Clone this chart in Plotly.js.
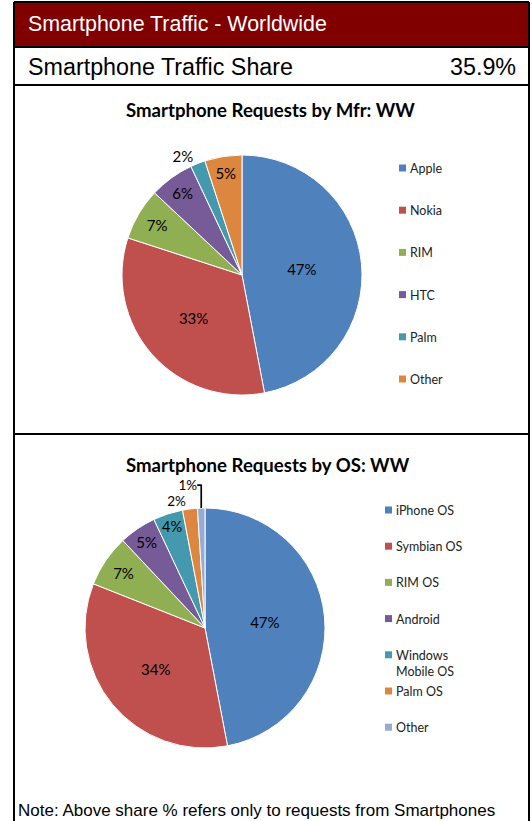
<!DOCTYPE html>
<html>
<head>
<meta charset="utf-8">
<script src="https://cdn.plot.ly/plotly-3.0.1.min.js"></script>
<style>html,body{margin:0;padding:0;background:#fff}</style>
</head>
<body>
<div id="chart" style="width:532px;height:821px"></div>
<script>
const mfrLabels = ['Apple', 'Nokia', 'RIM', 'HTC', 'Palm', 'Other'];
const mfrValues = [47, 33, 7, 6, 2, 5];
const osLabels = ['iPhone OS', 'Symbian OS', 'RIM OS', 'Android', 'Windows Mobile OS', 'Palm OS', 'Other'];
const osValues = [47, 34, 7, 5, 4, 2, 1];
const trafficShare = '35.9%';

const mfrColors = ['#4F81BD', '#C0504D', '#8FAF52', '#775B98', '#4599AE', '#DD8640'];
const osColors = ['#4F81BD', '#C0504D', '#8FAF52', '#775B98', '#4599AE', '#DD8640', '#95ACD5'];

const W = 532, H = 821;
const px = x => x / W;
const py = y => 1 - y / H;
const calibri = 'Lato, "Open Sans", sans-serif';
const arial = '"Liberation Sans", Arial, sans-serif';

function pieTrace(labels, values, colors, box, outside, outSize) {
  return {
    type: 'pie',
    labels: labels,
    values: values,
    sort: false,
    direction: 'clockwise',
    rotation: 0,
    marker: { colors: colors, line: { color: '#ffffff', width: 1 } },
    texttemplate: '%{value}%',
    textposition: labels.map((l, i) => outside.includes(i) ? 'outside' : 'inside'),
    insidetextorientation: 'horizontal',
    textfont: { family: calibri, size: 15, color: '#000000' },
    outsidetextfont: { family: calibri, size: outSize, color: '#000000' },
    hoverinfo: 'label+percent',
    domain: { x: [px(box[0]), px(box[2])], y: [py(box[3]), py(box[1])] },
    showlegend: false
  };
}

// legend built from the category arrays
function legendItems(labels, colors, x0, y0, step) {
  const shapes = [], annos = [];
  labels.forEach((l, i) => {
    const y = y0 + i * step;
    shapes.push({ type: 'rect', xref: 'paper', yref: 'paper', x0: px(x0), x1: px(x0 + 7), y0: py(y - 3.5), y1: py(y + 3.5), fillcolor: colors[i], line: { width: 0 } });
    annos.push({ xref: 'paper', yref: 'paper', x: px(x0 + 9), y: py(y - 9), xanchor: 'left', yanchor: 'top', align: 'left',
      text: l.replace('Windows ', 'Windows<br>'), showarrow: false, font: { family: calibri, size: 12.5, color: '#222' } });
  });
  return { shapes, annos };
}

const leg1 = legendItems(mfrLabels, mfrColors, 399, 168, 42.2);
const leg2 = legendItems(osLabels, osColors, 385, 510, 36.2);

function hline(y) {
  return { type: 'line', xref: 'paper', yref: 'paper', x0: px(14), x1: px(529), y0: py(y), y1: py(y), line: { color: '#000', width: 2 } };
}
function vline(x) {
  return { type: 'line', xref: 'paper', yref: 'paper', x0: px(x), x1: px(x), y0: py(2), y1: py(821), line: { color: '#000', width: 2 } };
}

const shapes = [
  { type: 'rect', xref: 'paper', yref: 'paper', x0: px(14), x1: px(529), y0: py(47), y1: py(2), fillcolor: '#800000', line: { width: 0 } },
  hline(2), hline(47), hline(85), hline(434), vline(14), vline(529)
].concat(leg1.shapes, leg2.shapes);

const annotations = [
  { x: px(26), y: py(24), xanchor: 'left', yanchor: 'middle', text: 'Smartphone Traffic - Worldwide', font: { family: arial, size: 21.4, color: '#ffffff' } },
  { x: px(26), y: py(67), xanchor: 'left', yanchor: 'middle', text: 'Smartphone Traffic Share', font: { family: arial, size: 23.3, color: '#000' } },
  { x: px(518), y: py(67), xanchor: 'right', yanchor: 'middle', text: trafficShare, font: { family: arial, size: 23.3, color: '#000' } },
  { x: px(270), y: py(110), xanchor: 'center', yanchor: 'middle', text: '<b>Smartphone Requests by Mfr: WW</b>', font: { family: calibri, size: 18.6, color: '#000' } },
  { x: px(268), y: py(465), xanchor: 'center', yanchor: 'middle', text: '<b>Smartphone Requests by OS: WW</b>', font: { family: calibri, size: 18.6, color: '#000' } },
  { x: px(16), y: py(810), xanchor: 'left', yanchor: 'middle', text: 'Note: Above share % refers only to requests from Smartphones', font: { family: arial, size: 17, color: '#000' } }
].map(a => Object.assign({ xref: 'paper', yref: 'paper', showarrow: false }, a)).concat(leg1.annos, leg2.annos);

const data = [
  pieTrace(mfrLabels, mfrValues, mfrColors, [122, 155, 362, 395], [4], 15),
  pieTrace(osLabels, osValues, osColors, [85, 508, 325, 748], [5, 6], 13.5)
];

const layout = {
  width: W,
  height: H,
  margin: { l: 0, r: 0, t: 0, b: 0 },
  paper_bgcolor: '#ffffff',
  showlegend: false,
  shapes: shapes,
  annotations: annotations
};

Plotly.newPlot('chart', data, layout, { displayModeBar: false, staticPlot: true });
</script>
</body>
</html>
